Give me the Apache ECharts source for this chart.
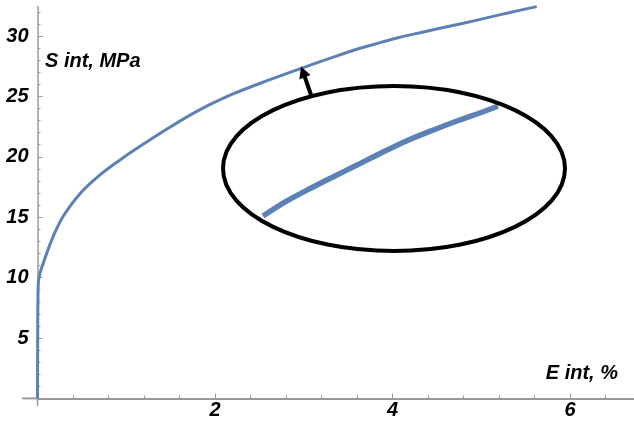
<!DOCTYPE html>
<html>
<head>
<meta charset="utf-8">
<script src="https://cdn.jsdelivr.net/npm/echarts@6/dist/echarts.min.js"></script>
<style>html,body{margin:0;padding:0;background:#fff}#c{width:634px;height:422px}</style>
</head>
<body>
<div id="c"></div>
<script>
// Main stress-strain curve (E int, % ; S int, MPa)
var strain = [0, 0.002, 0.009, 0.028, 0.065, 0.104, 0.141, 0.197, 0.291, 0.479, 0.704, 0.93, 1.1, 1.459, 1.831, 2.203, 2.586, 2.924, 3.333, 3.597, 3.859, 4.085, 4.31, 4.535, 4.798, 5.061, 5.324, 5.625];
var stress = [0, 5, 9.53, 10.36, 11.18, 12.01, 12.75, 13.75, 15.1, 16.95, 18.5, 19.74, 20.6, 22.3, 23.9, 25.2, 26.3, 27.2, 28.25, 28.9, 29.45, 29.9, 30.27, 30.64, 31.05, 31.5, 31.95, 32.43];
// Magnified inset segment (relative units)
var insetX = [0, 0.1, 0.2, 0.3, 0.4, 0.5, 0.61, 0.725, 0.837, 0.937, 1.0];
var insetY = [0, 0.132, 0.245, 0.351, 0.455, 0.56, 0.67, 0.768, 0.857, 0.931, 0.982];
var xTicks = [2, 4, 6];
var yTicks = [5, 10, 15, 20, 25, 30];

var BLUE = '#5e81b5';
var AXIS = '#9a9a9a';
var FONT = 'Liberation Sans, Arial, sans-serif';

var chart = echarts.init(document.getElementById('c'), null, {renderer: 'canvas'});

function zip(a, b) { return a.map(function (v, i) { return [v, b[i]]; }); }

var labelStyle = {color: '#000', fontFamily: FONT, fontSize: 20, fontWeight: 'bold', fontStyle: 'italic'};

var option = {
  animation: false,
  backgroundColor: '#fff',
  grid: [
    {left: 37.5, width: 710, top: -24.4, height: 422.8, outerBoundsMode: 'none', containLabel: false},
    {left: 263, width: 235, top: 104, height: 112, outerBoundsMode: 'none', containLabel: false}
  ],
  xAxis: [
    {
      type: 'value', gridIndex: 0, min: 0, max: 8, interval: 2,
      axisLine: {show: true, onZero: true, lineStyle: {color: AXIS, width: 2}},
      axisTick: {show: true, inside: true, length: 5, lineStyle: {color: AXIS, width: 1}},
      minorTick: {show: true, splitNumber: 5, length: 3, lineStyle: {color: AXIS, width: 1}},
      splitLine: {show: false},
      axisLabel: Object.assign({margin: 2, formatter: function (v) { return xTicks.indexOf(v) >= 0 ? String(v) : ''; }}, labelStyle)
    },
    {type: 'value', gridIndex: 1, min: 0, max: 1, show: false}
  ],
  yAxis: [
    {
      type: 'value', gridIndex: 0, min: 0, max: 35, interval: 5,
      axisLine: {show: true, onZero: true, lineStyle: {color: AXIS, width: 1.5}},
      axisTick: {show: true, inside: true, length: 5, lineStyle: {color: AXIS, width: 1}},
      minorTick: {show: true, splitNumber: 5, length: 3, lineStyle: {color: AXIS, width: 1}},
      splitLine: {show: false},
      axisLabel: Object.assign({margin: 9, formatter: function (v) { return yTicks.indexOf(v) >= 0 ? String(v) : ''; }}, labelStyle)
    },
    {type: 'value', gridIndex: 1, min: 0, max: 1, show: false}
  ],
  series: [
    {
      type: 'line', xAxisIndex: 0, yAxisIndex: 0,
      data: zip(strain, stress),
      showSymbol: false, smooth: 0.3,
      lineStyle: {color: BLUE, width: 3},
      z: 3
    },
    {
      type: 'line', xAxisIndex: 1, yAxisIndex: 1,
      data: zip(insetX, insetY),
      showSymbol: false, smooth: 0.3,
      lineStyle: {color: BLUE, width: 5.5, cap: 'butt'},
      z: 3
    }
  ],
  graphic: [
    // axis extensions past the origin
    {type: 'line', shape: {x1: 22, y1: 398.4, x2: 38, y2: 398.4}, style: {stroke: AXIS, lineWidth: 2}, z: 1},
    {type: 'line', shape: {x1: 37.5, y1: 398, x2: 37.5, y2: 406}, style: {stroke: AXIS, lineWidth: 1.5}, z: 1},
    // blank the top few pixels above the axis end
    {type: 'rect', shape: {x: 28, y: 0, width: 20, height: 6}, style: {fill: '#fff'}, z: 50},
    // axis titles
    {type: 'text', x: 45, y: 51, style: {text: 'S int, MPa', fill: '#000', font: 'italic bold 20px ' + FONT, textAlign: 'left', textVerticalAlign: 'top'}, z: 10},
    {type: 'text', x: 618, y: 363, style: {text: 'E int, %', fill: '#000', font: 'italic bold 20px ' + FONT, textAlign: 'right', textVerticalAlign: 'top'}, z: 10},
    // magnifier ellipse
    {type: 'ellipse', shape: {cx: 394, cy: 168.5, rx: 171, ry: 82.5}, style: {stroke: '#000', fill: null, lineWidth: 4}, z: 5},
    // arrow
    {type: 'polygon', shape: {points: [[301, 66.5], [310.5, 75.1], [306.8, 76.6], [313.4, 95.5], [309.6, 96.9], [303.0, 78.0], [299.3, 79.4]]}, style: {fill: '#000'}, z: 6}
  ]
};
chart.setOption(option);
</script>
</body>
</html>
